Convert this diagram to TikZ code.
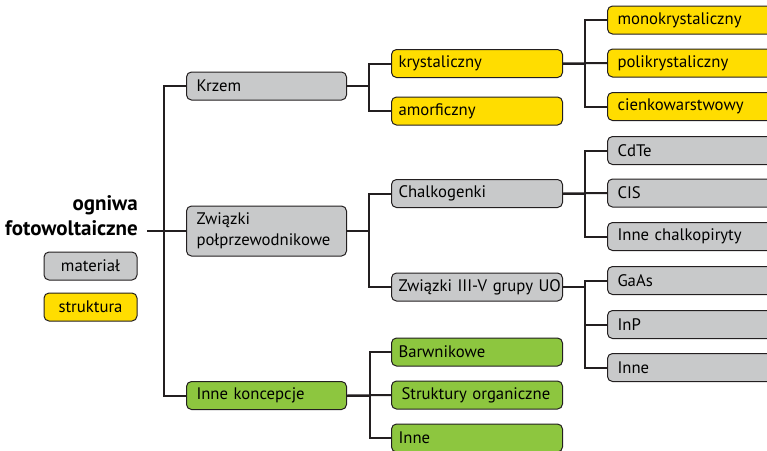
\documentclass[tikz,border=0pt]{standalone}
\usepackage{fontspec}
\setmainfont{PT Sans}
\usepackage{tikz}

\definecolor{szary}{RGB}{200,201,202}
\definecolor{zolty}{RGB}{255,221,0}
\definecolor{zielony}{RGB}{141,198,63}
\definecolor{ramka}{RGB}{35,31,32}

\begin{document}
\begin{tikzpicture}
[x=1pt, y=1pt,
 box/.style={rectangle, rounded corners=5pt, draw=ramka, line width=1pt, anchor=west,
   minimum height=28pt, inner ysep=0pt, align=left, font=\fontsize{16.7}{21}\selectfont},
 mat/.style={box, fill=szary},
 str/.style={box, fill=zolty},
 inn/.style={box, fill=zielony},
 lewa/.style={inner xsep=10pt, text width=140pt},
 srodek/.style={inner xsep=7pt, text width=157pt},
 prawa/.style={inner xsep=10pt, text width=150pt},
 legenda/.style={box, anchor=center, minimum width=93pt, inner xsep=0pt, align=center},
 link/.style={line width=2pt, draw=ramka}]
\useasboundingbox (0,0) rectangle (767,-450);
\clip (0,0) rectangle (767,-450);
% korzen i legenda
\node (ogniwa) [anchor=base east, align=right, inner sep=0pt, font=\fontsize{21}{25}\selectfont\bfseries] at (138,-235) {ogniwa\\fotowoltaiczne};
\coordinate (start) at (147,-231);
\node (legmat) [legenda, fill=szary] at (90.5,-266) {materiał};
\node (legstr) [legenda, fill=zolty] at (90.5,-307) {struktura};
% pierwsza kolumna
\node (krzem) [mat, lewa] at (186,-86) {Krzem};
\node (zwiazki) [mat, lewa, minimum height=50pt] at (186,-231) {Związki\\połprzewodnikowe};
\node (koncepcje) [inn, lewa] at (186,-395.5) {Inne koncepcje};
% druga kolumna
\node (kryst) [str, srodek] at (391,-63.5) {krystaliczny};
\node (amorf) [str, srodek] at (391,-111) {amorficzny};
\node (chalko) [mat, srodek] at (391,-193.5) {Chalkogenki};
\node (trzypiec) [mat, srodek] at (391,-287) {\mbox{Związki III-V grupy UO}};
\node (barwn) [inn, srodek] at (391,-352) {Barwnikowe};
\node (organ) [inn, srodek] at (391,-395) {\hspace{3pt}Struktury organiczne};
\node (inne1) [inn, srodek] at (391,-438) {Inne};
% trzecia kolumna
\node (mono) [str, prawa] at (607,-20) {monokrystaliczny};
\node (poli) [str, prawa] at (607,-63) {polikrystaliczny};
\node (cienko) [str, prawa] at (607,-106.5) {cienkowarstwowy};
\node (cdte) [mat, prawa] at (607,-150.5) {CdTe};
\node (cis) [mat, prawa] at (607,-193) {CIS};
\node (chalkop) [mat, prawa] at (607,-236.5) {Inne chalkopiryty};
\node (gaas) [mat, prawa] at (607,-280.5) {GaAs};
\node (inp) [mat, prawa] at (607,-324.5) {InP};
\node (inne2) [mat, prawa] at (607,-367.5) {Inne};
% polaczenia
\draw [link] (start) -- (zwiazki.west);
\draw [link] (krzem.west) -- ++(-22,0) |- (koncepcje.west);
\draw [link] (krzem.east) -- ++(22,0) |- (kryst.west);
\draw [link] (krzem.east) ++(22,0) |- (amorf.west);
\draw [link] (zwiazki.east) -- ++(22,0) |- (chalko.west);
\draw [link] (zwiazki.east) ++(22,0) |- (trzypiec.west);
\draw [link] (koncepcje.east) -- ++(23,0) |- (barwn.west);
\draw [link] (koncepcje.east) ++(23,0) |- (inne1.west);
\draw [link] (koncepcje.east) -- (organ.west);
\draw [link] (kryst.east) -- ++(22,0) |- (mono.west);
\draw [link] (kryst.east) ++(22,0) |- (cienko.west);
\draw [link] (kryst.east) -- (poli.west);
\draw [link] (chalko.east) -- ++(22,0) |- (cdte.west);
\draw [link] (chalko.east) ++(22,0) |- (chalkop.west);
\draw [link] (chalko.east) -- (cis.west);
\draw [link] (trzypiec.east) -- ++(22,0) |- (gaas.west);
\draw [link] (trzypiec.east) ++(22,0) |- (inne2.west);
\draw [link] (trzypiec.east) ++(22,0) |- (inp.west);
\end{tikzpicture}
\end{document}
